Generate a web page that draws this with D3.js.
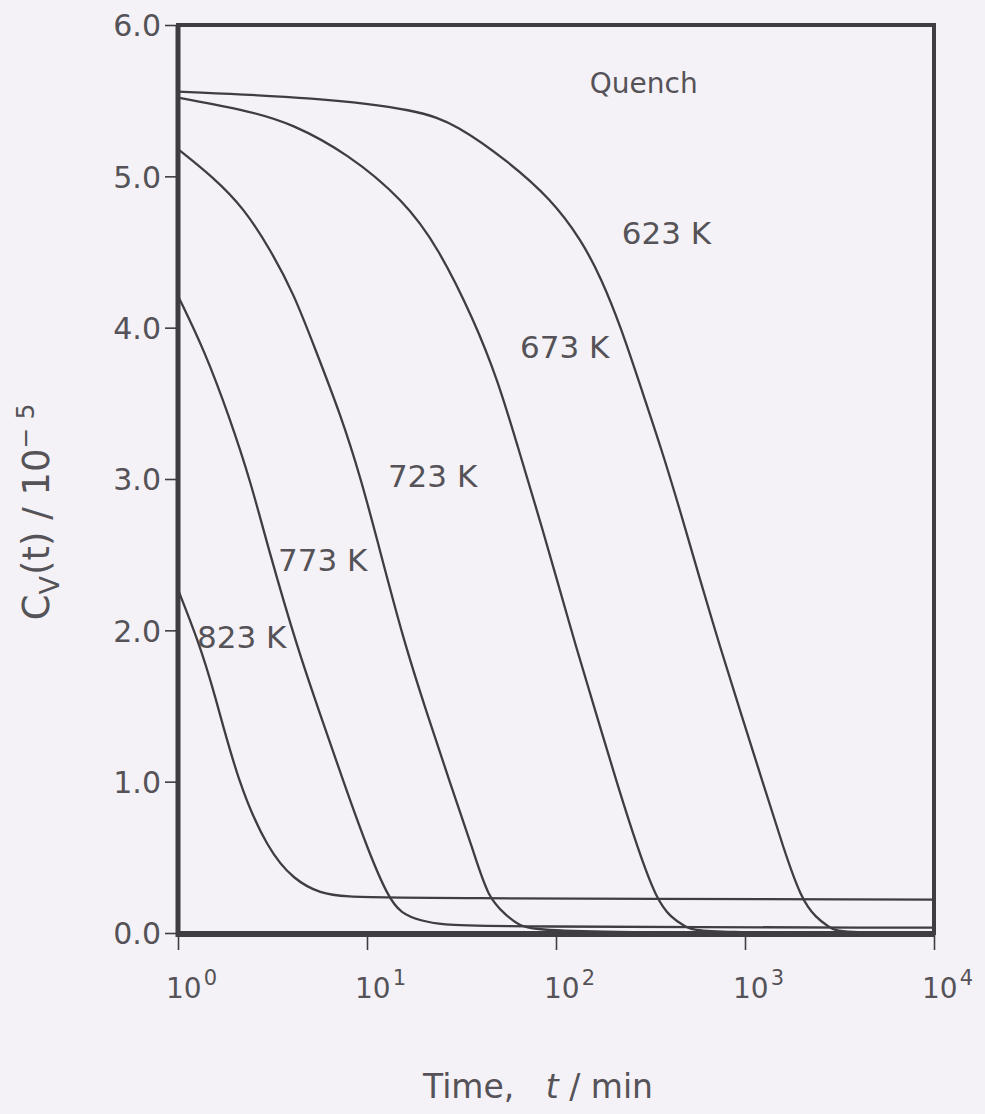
<!DOCTYPE html>
<html>
<head>
<meta charset="utf-8">
<script src="https://cdn.jsdelivr.net/npm/d3@7"></script>
<style>
  html, body { margin: 0; padding: 0; background: #f4f2f6; }
  svg { display: block; }
  text { font-family: "DejaVu Sans", sans-serif; fill: #555258; }
</style>
</head>
<body>
<svg id="chart" width="985" height="1114"></svg>
<script>
// Annealing temperatures (K) for each vacancy-decay curve
const temperatures = [623, 673, 723, 773, 823];

// Time points (min) and vacancy concentration C_v(t) / 1e-5 for each anneal
const time623 = [1, 5.5, 18.6, 30, 55.7, 94.1, 136, 173, 221, 282, 359, 459, 564, 746, 964, 1245, 1608, 1977, 2375, 2782, 3143, 10000];
const cv623   = [5.56, 5.52, 5.44, 5.34, 5.10, 4.85, 4.58, 4.33, 4.00, 3.60, 3.21, 2.77, 2.38, 1.87, 1.43, 0.99, 0.55, 0.23, 0.10, 0.04, 0.0, 0.0];

const time673 = [1, 2.43, 3.96, 7.93, 15.7, 23.8, 36.8, 49.3, 62.9, 80.3, 98.8, 129, 165, 210, 272, 338, 406, 487, 564, 10000];
const cv673   = [5.52, 5.43, 5.35, 5.15, 4.84, 4.53, 4.05, 3.65, 3.21, 2.77, 2.38, 1.87, 1.43, 0.99, 0.55, 0.23, 0.10, 0.04, 0.0, 0.0];

const time723 = [1, 1.55, 2.23, 3.10, 4.11, 5.24, 7.28, 9.29, 11.2, 15.7, 20.8, 27.5, 36.4, 43.7, 54.4, 62.9, 86.4, 10000];
const cv723   = [5.18, 4.99, 4.79, 4.51, 4.22, 3.88, 3.42, 3.00, 2.62, 1.92, 1.45, 0.99, 0.55, 0.23, 0.12, 0.05, 0.0, 0.0];

const time773 = [1, 1.38, 1.87, 2.44, 2.99, 4.31, 5.71, 7.55, 10.1, 12.9, 15.1, 19.3, 25.0, 41.6, 10000];
const cv773   = [4.21, 3.85, 3.41, 2.97, 2.55, 1.87, 1.43, 0.99, 0.55, 0.24, 0.13, 0.08, 0.055, 0.042, 0.035];

const time823 = [1, 1.28, 1.55, 2.08, 2.99, 4.11, 5.71, 7.55, 15.1, 10000];
const cv823   = [2.27, 1.93, 1.60, 0.99, 0.55, 0.35, 0.26, 0.24, 0.23, 0.22];

// Axis ticks
const yTicks = [0, 1, 2, 3, 4, 5, 6];
const xTickExponents = [0, 1, 2, 3, 4];

// Curve annotations: text and anchor in data units (time, C_v)
const labelTexts = ["Quench", "623 K", "673 K", "723 K", "773 K", "823 K"];
const labelTimes = [151, 223, 64.5, 12.9, 3.38, 1.26];
const labelValues = [5.55, 4.55, 3.80, 2.95, 2.39, 1.88];

const svg = d3.select("#chart");
const x = d3.scaleLog().domain([1, 1e4]).range([178, 934]);
const y = d3.scaleLinear().domain([0, 6]).range([933, 25]);

const series = [
  { T: 623, t: time623, c: cv623 },
  { T: 673, t: time673, c: cv673 },
  { T: 723, t: time723, c: cv723 },
  { T: 773, t: time773, c: cv773 },
  { T: 823, t: time823, c: cv823 }
];

// B-spline keeps the decay curves smooth without overshooting below zero
const line = d3.line()
  .x(d => x(d[0]))
  .y(d => y(d[1]))
  .curve(d3.curveBasis);

const ink = "#3f3c42";

// Curves
svg.append("g")
  .selectAll("path")
  .data(series)
  .join("path")
  .attr("d", s => line(s.t.map((tv, i) => [tv, s.c[i]])))
  .attr("fill", "none")
  .attr("stroke", ink)
  .attr("stroke-width", 2.3)
  .attr("stroke-linejoin", "round");

// Y axis
const yAxis = svg.append("g")
  .attr("transform", `translate(${x(1)},0)`)
  .call(d3.axisLeft(y).tickValues(yTicks).tickFormat(d3.format(".1f")).tickSize(13).tickPadding(4));
yAxis.select(".domain").remove();
yAxis.selectAll("line").attr("stroke", ink).attr("stroke-width", 1.6);
yAxis.selectAll("text").attr("font-size", 30).attr("dy", "0.36em").style("font-family", "DejaVu Sans").attr("fill", "#555258");

// X axis
const xAxis = svg.append("g")
  .attr("transform", `translate(0,${y(0)})`)
  .call(d3.axisBottom(x).tickValues(xTickExponents.map(e => Math.pow(10, e))).tickFormat("").tickSize(17));
xAxis.select(".domain").remove();
xAxis.selectAll("line").attr("stroke", ink).attr("stroke-width", 1.6);

const xt = svg.append("g").selectAll("text")
  .data(xTickExponents)
  .join("text")
  .attr("x", e => x(Math.pow(10, e)) - 12)
  .attr("y", 998)
  .attr("font-size", 28);
xt.append("tspan").text("10");
xt.append("tspan").attr("dy", -13).attr("font-size", 21).attr("dx", 2).text(e => e);

// Frame
svg.append("rect")
  .attr("x", x(1)).attr("y", y(6))
  .attr("width", x(1e4) - x(1)).attr("height", y(0) - y(6))
  .attr("fill", "none").attr("stroke", ink).attr("stroke-width", 4);
svg.append("line")
  .attr("x1", x(1)).attr("x2", x(1e4)).attr("y1", y(0) + 1.5).attr("y2", y(0) + 1.5)
  .attr("stroke", ink).attr("stroke-width", 5);
svg.append("line")
  .attr("x1", x(1)).attr("x2", x(1)).attr("y1", y(6)).attr("y2", y(0) + 4)
  .attr("stroke", ink).attr("stroke-width", 5);

// Curve labels
svg.append("g").selectAll("text")
  .data(labelTexts)
  .join("text")
  .attr("x", (d, i) => x(labelTimes[i]))
  .attr("y", (d, i) => y(labelValues[i]))
  .attr("font-size", (d, i) => i === 0 ? 28 : 31)
  .text(d => d);

// Axis titles
const xTitle = svg.append("text")
  .attr("x", 538).attr("y", 1098)
  .attr("text-anchor", "middle")
  .attr("font-size", 33);
xTitle.append("tspan").text("Time,\u00A0\u00A0 ");
xTitle.append("tspan").attr("font-style", "italic").text("t");
xTitle.append("tspan").text(" / min");

const yTitle = svg.append("text")
  .attr("transform", "translate(49,512) rotate(-90)")
  .attr("text-anchor", "middle")
  .attr("font-size", 37);
yTitle.append("tspan").text("C");
yTitle.append("tspan").attr("dy", 10).attr("font-size", 27).text("V");
yTitle.append("tspan").attr("dy", -10).attr("dx", 1).text("(t) / 10");
yTitle.append("tspan").attr("dy", -15).attr("font-size", 25).text("\u2212\u00A05");
</script>
</body>
</html>
